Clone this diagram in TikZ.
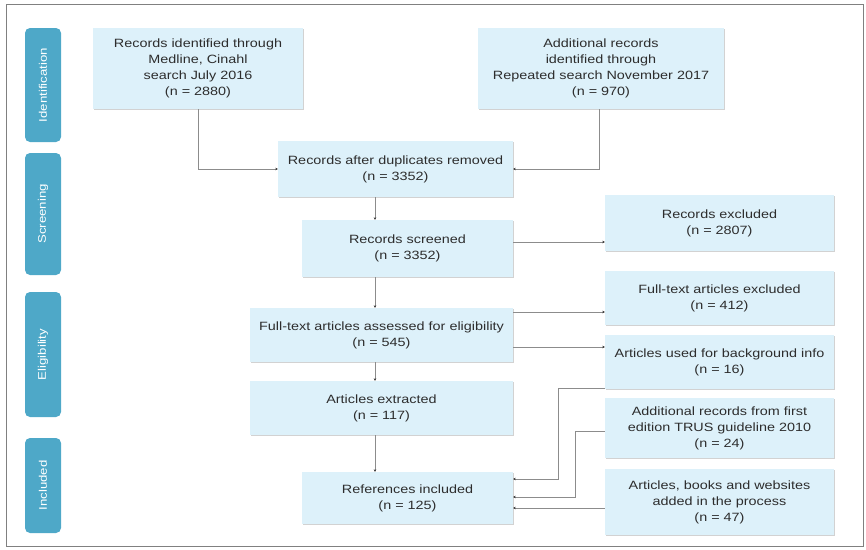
\documentclass[tikz,border=0pt]{standalone}
\usepackage{fontspec}
\setmainfont{Liberation Sans}[FakeStretch=1.2]
\usetikzlibrary{arrows.meta,shadows}
\definecolor{boxfill}{RGB}{221,241,250}
\definecolor{sidefill}{RGB}{78,168,200}
\definecolor{txt}{RGB}{45,45,45}
\definecolor{linec}{RGB}{140,140,140}
\tikzset{
  box/.style={fill=boxfill, draw=none, align=center, text=txt,
    font=\fontsize{12}{16}\selectfont, inner sep=2pt,
    drop shadow={shadow xshift=1pt, shadow yshift=-1pt, fill=gray!35, opacity=1}},
  side/.style={fill=sidefill, draw=none, rounded corners=5pt, text=white,
    minimum width=36pt, font=\fontsize{11}{12}\selectfont},
  conn/.style={draw=linec, line width=0.8pt, -{Stealth[length=2.5pt,width=2.5pt,color=black!80]}},
}
\begin{document}
\begin{tikzpicture}[x=1pt,y=-1pt]
\useasboundingbox (0,0) rectangle (866,549);
\draw[gray, line width=1pt] (6,4) rectangle (863,546);
% side labels
\node[side, minimum height=114pt] (sid) at (43,85) {\rotatebox{90}{Identification}};
\node[side, minimum height=122pt] (sscr) at (43,214) {\rotatebox{90}{Screening}};
\node[side, minimum height=125pt] (sel) at (43,354.5) {\rotatebox{90}{Eligibility}};
\node[side, minimum height=95pt] (sinc) at (43,485.5) {\rotatebox{90}{Included}};
% boxes
\node[box, minimum width=210pt, minimum height=81pt] (A) at (198,68.5) {Records identified through\\Medline, Cinahl\\search July 2016\\(n = 2880)};
\node[box, minimum width=246pt, minimum height=81pt] (B) at (601,68.5) {Additional records\\identified through\\Repeated search November 2017\\(n = 970)};
\node[box, minimum width=235pt, minimum height=56pt] (C) at (395.5,169) {Records after duplicates removed\\(n = 3352)};
\node[box, minimum width=211pt, minimum height=57pt] (D) at (407.5,248.5) {Records screened\\(n = 3352)};
\node[box, minimum width=229pt, minimum height=56pt] (E) at (719.5,223) {Records excluded\\(n = 2807)};
\node[box, minimum width=229pt, minimum height=54pt] (F) at (719.5,298) {Full-text articles excluded\\(n = 412)};
\node[box, minimum width=263pt, minimum height=54pt] (G) at (381.5,335) {Full-text articles assessed for eligibility\\(n = 545)};
\node[box, minimum width=229pt, minimum height=54pt] (H) at (719.5,362) {Articles used for background info\\(n = 16)};
\node[box, minimum width=263pt, minimum height=54pt] (I) at (381.5,408) {Articles extracted\\(n = 117)};
\node[box, minimum width=229pt, minimum height=60pt] (J) at (719.5,428) {Additional records from first\\edition TRUS guideline 2010\\(n = 24)};
\node[box, minimum width=229pt, minimum height=66pt] (K) at (719.5,502) {Articles, books and websites\\added in the process\\(n = 47)};
\node[box, minimum width=211pt, minimum height=52pt] (L) at (407.5,498) {References included\\(n = 125)};
% connectors
\coordinate (vx) at (375,0);
\draw[conn] (A.south) |- (C.west);
\draw[conn] (B.south -| 599,0) |- (C.east);
\draw[conn] (C.south -| vx) -- (D.north -| vx);
\draw[conn] (D.east |- 0,242) -- (E.west |- 0,242);
\draw[conn] (D.south -| vx) -- (G.north -| vx);
\draw[conn] (G.east |- 0,312) -- (F.west |- 0,312);
\draw[conn] (G.east |- 0,347) -- (H.west |- 0,347);
\draw[conn] (G.south -| vx) -- (I.north -| vx);
\draw[conn] (I.south -| vx) -- (L.north -| vx);
\draw[conn] (H.west |- 0,388) -- (558,388) |- (L.east |- 0,479);
\draw[conn] (J.west |- 0,431) -- (575,431) |- (L.east |- 0,497);
\draw[conn] (K.west |- 0,508) -- (L.east |- 0,508);
\end{tikzpicture}
\end{document}
